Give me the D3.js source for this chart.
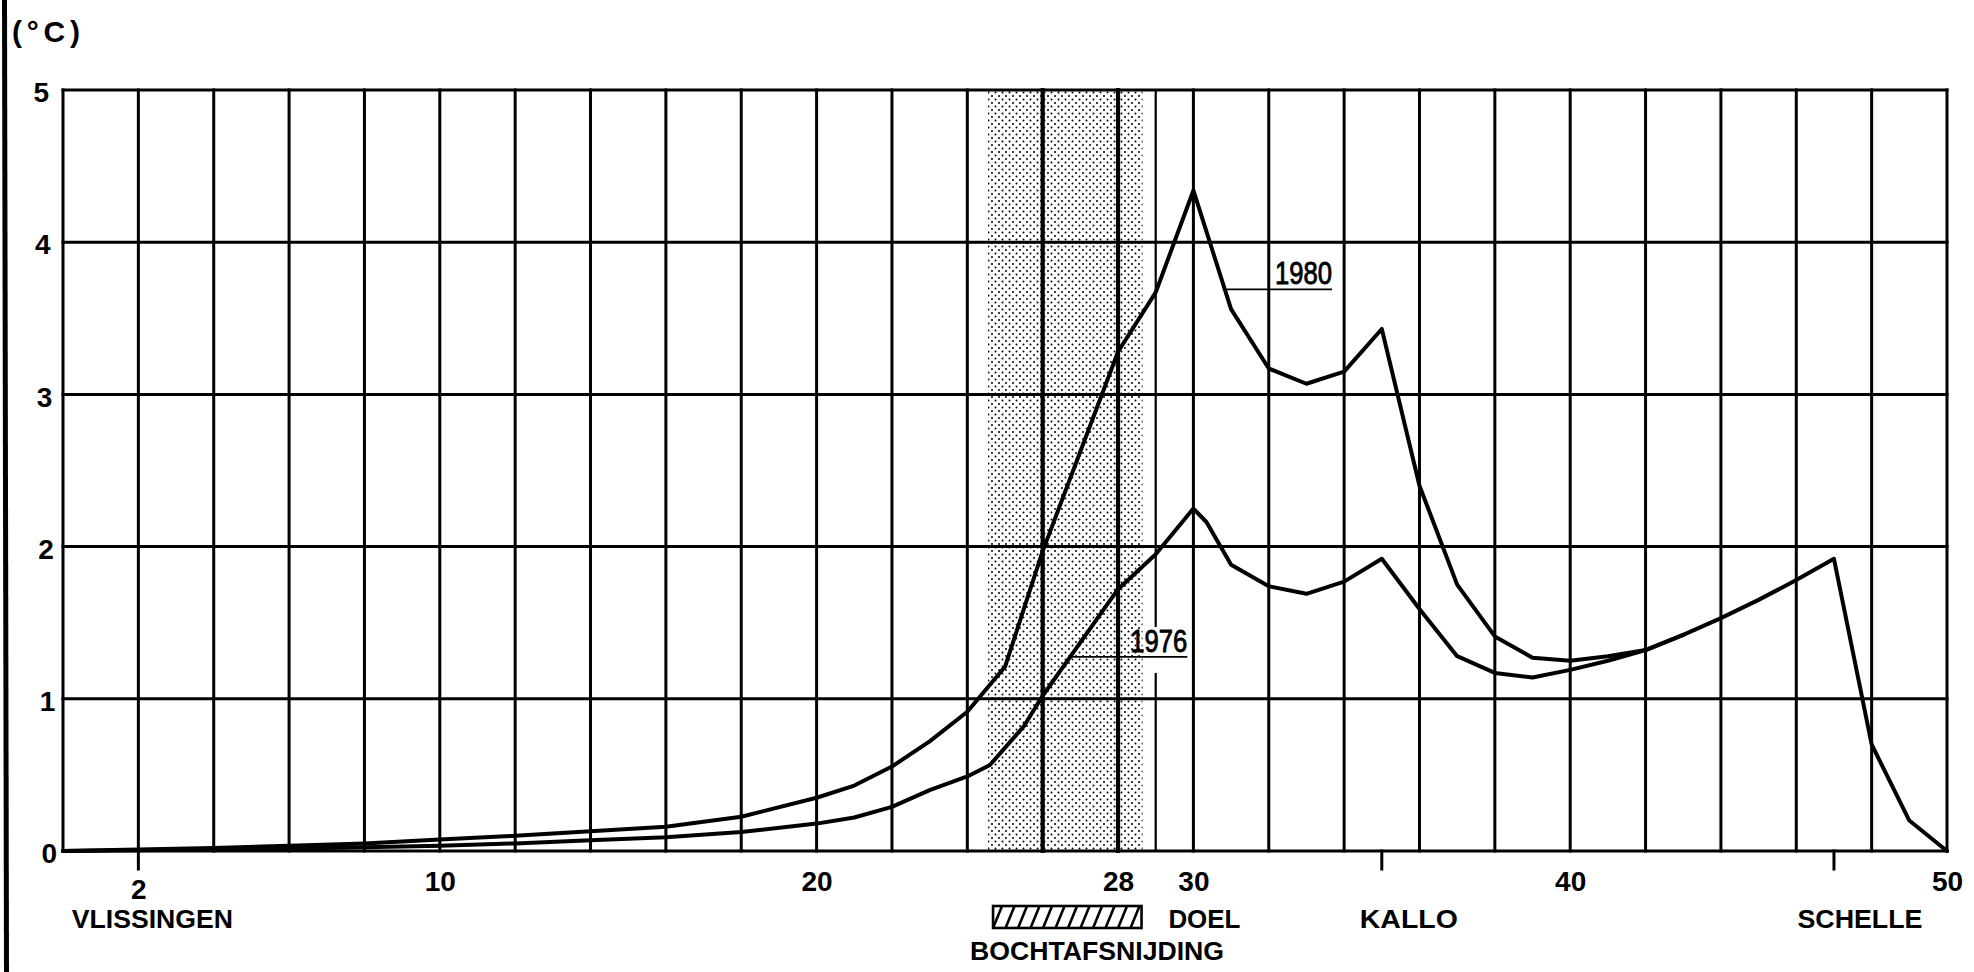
<!DOCTYPE html>
<html>
<head>
<meta charset="utf-8">
<script src="https://cdn.jsdelivr.net/npm/d3@7/dist/d3.min.js"></script>
<style>
  html, body { margin: 0; padding: 0; background: #fff; }
  svg { display: block; }
  text { font-family: "Liberation Sans", Arial, sans-serif; fill: #000; }
</style>
</head>
<body>
<div id="chart"></div>
<script>
// temperature rise (°C) along the Schelde, by km from the mouth
const km1980 = [0, 2, 4, 6, 8, 10, 12, 14, 16, 18, 20, 21, 22, 23, 24, 25, 26, 28, 29, 30,
                31, 32, 33, 34, 35, 36, 37, 38, 39, 40, 41, 42, 43];
const t1980  = [0, 0.01, 0.02, 0.035, 0.05, 0.075, 0.10, 0.13, 0.16, 0.225, 0.35, 0.43, 0.555, 0.72, 0.915, 1.21, 1.97, 3.28, 3.67, 4.34,
                3.56, 3.17, 3.07, 3.15, 3.43, 2.40, 1.75, 1.41, 1.27, 1.25, 1.28, 1.32, 1.42];

const km1976 = [0, 2, 4, 6, 8, 10, 12, 14, 16, 18, 20, 21, 22, 23, 24, 24.6, 25.5, 26, 28, 29, 30, 30.35,
                31, 32, 33, 34, 35, 36, 37, 38, 39, 40, 41, 42, 43, 44, 45, 46, 47, 48, 49, 50];
const t1976  = [0, 0.005, 0.01, 0.015, 0.025, 0.035, 0.05, 0.07, 0.09, 0.125, 0.18, 0.22, 0.29, 0.40, 0.49, 0.565, 0.82, 1.02, 1.72, 1.95, 2.25, 2.16,
                1.88, 1.74, 1.69, 1.77, 1.92, 1.59, 1.28, 1.17, 1.14, 1.19, 1.25, 1.32, 1.42, 1.53, 1.65, 1.78, 1.92, 0.70, 0.20, 0];

const xTickValues = [2, 10, 20, 28, 30, 40, 50];
const yTickValues = [0, 1, 2, 3, 4, 5];
const gridKm = [0, 2, 4, 6, 8, 10, 12, 14, 16, 18, 20, 22, 24, 26, 28, 29, 30, 32, 34, 36, 38, 40, 42, 44, 46, 48, 50];
const boldGridKm = [26, 28];
const thinGridKm = [29];

const stationNames = ["VLISSINGEN", "DOEL", "KALLO", "SCHELLE"];
const stationKm = [2, 30, 35, 47];
const stationTickKm = [2, 35, 47];

const cutoffKm = [24.55, 28.65];   // bochtafsnijding
const cutoffName = "BOCHTAFSNIJDING";

const seriesNames = ["1980", "1976"];
const leaderStartKm = [30.84, 26.73];
const leaderEndKm = [33.68, 29.84];
const leaderT = [3.69, 1.275];

// label layout (pixels)
const stationLayout = { dx: [14, 11, 27, 26], width: [161, 72, 98, 125] };

const series = [
    km1980.map((k, i) => ({ km: k, t: t1980[i] })),
    km1976.map((k, i) => ({ km: k, t: t1976[i] }))
];

const W = 1974, H = 972;
const x = d3.scaleLinear().domain([0, 50]).range([63, 1947]);
const y = d3.scaleLinear().domain([0, 5]).range([851, 90]);

const svg = d3.select("#chart").append("svg")
    .attr("width", W)
    .attr("height", H);

// stipple for the cut-off band
const defs = svg.append("defs");
const pat = defs.append("pattern")
    .attr("id", "dots")
    .attr("patternUnits", "userSpaceOnUse")
    .attr("width", 7)
    .attr("height", 7);
pat.append("circle").attr("cx", 1.5).attr("cy", 1.5).attr("r", 1).attr("fill", "#000");
pat.append("circle").attr("cx", 5).attr("cy", 5).attr("r", 1).attr("fill", "#000");

svg.append("rect")
    .attr("x", x(cutoffKm[0]))
    .attr("y", y(5))
    .attr("width", x(cutoffKm[1]) - x(cutoffKm[0]))
    .attr("height", y(0) - y(5))
    .attr("fill", "url(#dots)");

// page edge on the left
svg.append("line")
    .attr("x1", 4.5).attr("y1", 0)
    .attr("x2", 6.5).attr("y2", H)
    .attr("stroke", "#000")
    .attr("stroke-width", 5);

// grid
const grid = svg.append("g").attr("stroke", "#000").attr("stroke-linecap", "square");
grid.selectAll(".hline").data(yTickValues).join("line")
    .attr("class", "hline")
    .attr("x1", x(0)).attr("x2", x(50))
    .attr("y1", d => y(d)).attr("y2", d => y(d))
    .attr("stroke-width", 3);
grid.selectAll(".vline").data(gridKm).join("line")
    .attr("class", "vline")
    .attr("x1", d => x(d)).attr("x2", d => x(d))
    .attr("y1", y(0)).attr("y2", y(5))
    .attr("stroke-width", d => boldGridKm.includes(d) ? 4.2 : thinGridKm.includes(d) ? 2.2 : 3);

// station ticks below the axis
grid.selectAll(".stick").data(stationTickKm).join("line")
    .attr("class", "stick")
    .attr("x1", d => x(d)).attr("x2", d => x(d))
    .attr("y1", y(0)).attr("y2", y(0) + 18)
    .attr("stroke-width", 3);

// gap in the grid behind the 1976 label
svg.append("rect")
    .attr("x", x(cutoffKm[1]) + 3)
    .attr("y", y(leaderT[1]) - 30)
    .attr("width", x(leaderEndKm[1]) - x(cutoffKm[1]) - 2)
    .attr("height", 46)
    .attr("fill", "#fff");

// curves
const line = d3.line().x(d => x(d.km)).y(d => y(d.t));
svg.selectAll(".curve").data(series).join("path")
    .attr("class", "curve")
    .attr("d", line)
    .attr("fill", "none")
    .attr("stroke", "#000")
    .attr("stroke-width", 4)
    .attr("stroke-linejoin", "round")
    .attr("stroke-linecap", "round");

// series labels with leader lines
seriesNames.forEach((name, i) => {
    svg.append("line")
        .attr("x1", x(leaderStartKm[i])).attr("x2", x(leaderEndKm[i]))
        .attr("y1", y(leaderT[i])).attr("y2", y(leaderT[i]))
        .attr("stroke", "#000")
        .attr("stroke-width", 1.8);
    svg.append("text")
        .attr("x", x(leaderEndKm[i]))
        .attr("y", y(leaderT[i]) - 5)
        .attr("text-anchor", "end")
        .attr("font-size", 31)
        .attr("stroke", "#000")
        .attr("stroke-width", 0.9)
        .attr("textLength", 57)
        .attr("lengthAdjust", "spacingAndGlyphs")
        .text(name);
});

// axes
const xAxis = svg.append("g")
    .attr("transform", `translate(0,${y(0)})`)
    .call(d3.axisBottom(x).tickValues(xTickValues).tickSize(0).tickPadding(20).tickFormat(d3.format("d")));
xAxis.select(".domain").remove();
xAxis.attr("font-size", 28).attr("font-weight", "bold");
xAxis.selectAll(".tick").filter(d => d === 2).select("text").attr("y", 28);

const yAxis = svg.append("g")
    .attr("transform", `translate(${x(0)},0)`)
    .call(d3.axisLeft(y).tickValues(yTickValues).tickSize(0).tickFormat(d3.format("d")));
yAxis.select(".domain").remove();
yAxis.attr("font-size", 28).attr("font-weight", "bold");
yAxis.selectAll("text")
    .attr("x", d => -(6 + 1.6 * d))
    .attr("dy", "0.42em");

// unit
svg.append("text")
    .attr("x", 12)
    .attr("y", 42)
    .attr("font-size", 30)
    .attr("font-weight", "bold")
    .attr("textLength", 68)
    .attr("lengthAdjust", "spacing")
    .text("(°C)");

// station names
svg.selectAll(".station").data(stationNames).join("text")
    .attr("class", "station")
    .attr("x", (d, i) => x(stationKm[i]) + stationLayout.dx[i])
    .attr("y", 928)
    .attr("text-anchor", "middle")
    .attr("font-size", 26)
    .attr("font-weight", "bold")
    .attr("textLength", (d, i) => stationLayout.width[i])
    .attr("lengthAdjust", "spacingAndGlyphs")
    .text(d => d);

// hatched box for the bend cut-off
const bx = x(cutoffKm[0]) + 5, bw = x(cutoffKm[1]) - x(cutoffKm[0]) - 6, by = 906, bh = 22;
defs.append("clipPath").attr("id", "boxclip")
    .append("rect").attr("x", bx).attr("y", by).attr("width", bw).attr("height", bh);
svg.append("g").attr("clip-path", "url(#boxclip)")
    .selectAll("line").data(d3.range(-1, 14)).join("line")
    .attr("x1", d => bx + d * 12.5).attr("y1", by + bh)
    .attr("x2", d => bx + d * 12.5 + 9).attr("y2", by)
    .attr("stroke", "#000")
    .attr("stroke-width", 2.6);
svg.append("rect")
    .attr("x", bx).attr("y", by).attr("width", bw).attr("height", bh)
    .attr("fill", "none")
    .attr("stroke", "#000")
    .attr("stroke-width", 2.6);

svg.append("text")
    .attr("x", x(cutoffKm[0]) - 18)
    .attr("y", 960)
    .attr("font-size", 26)
    .attr("font-weight", "bold")
    .attr("textLength", 254)
    .attr("lengthAdjust", "spacingAndGlyphs")
    .text(cutoffName);
</script>
</body>
</html>
